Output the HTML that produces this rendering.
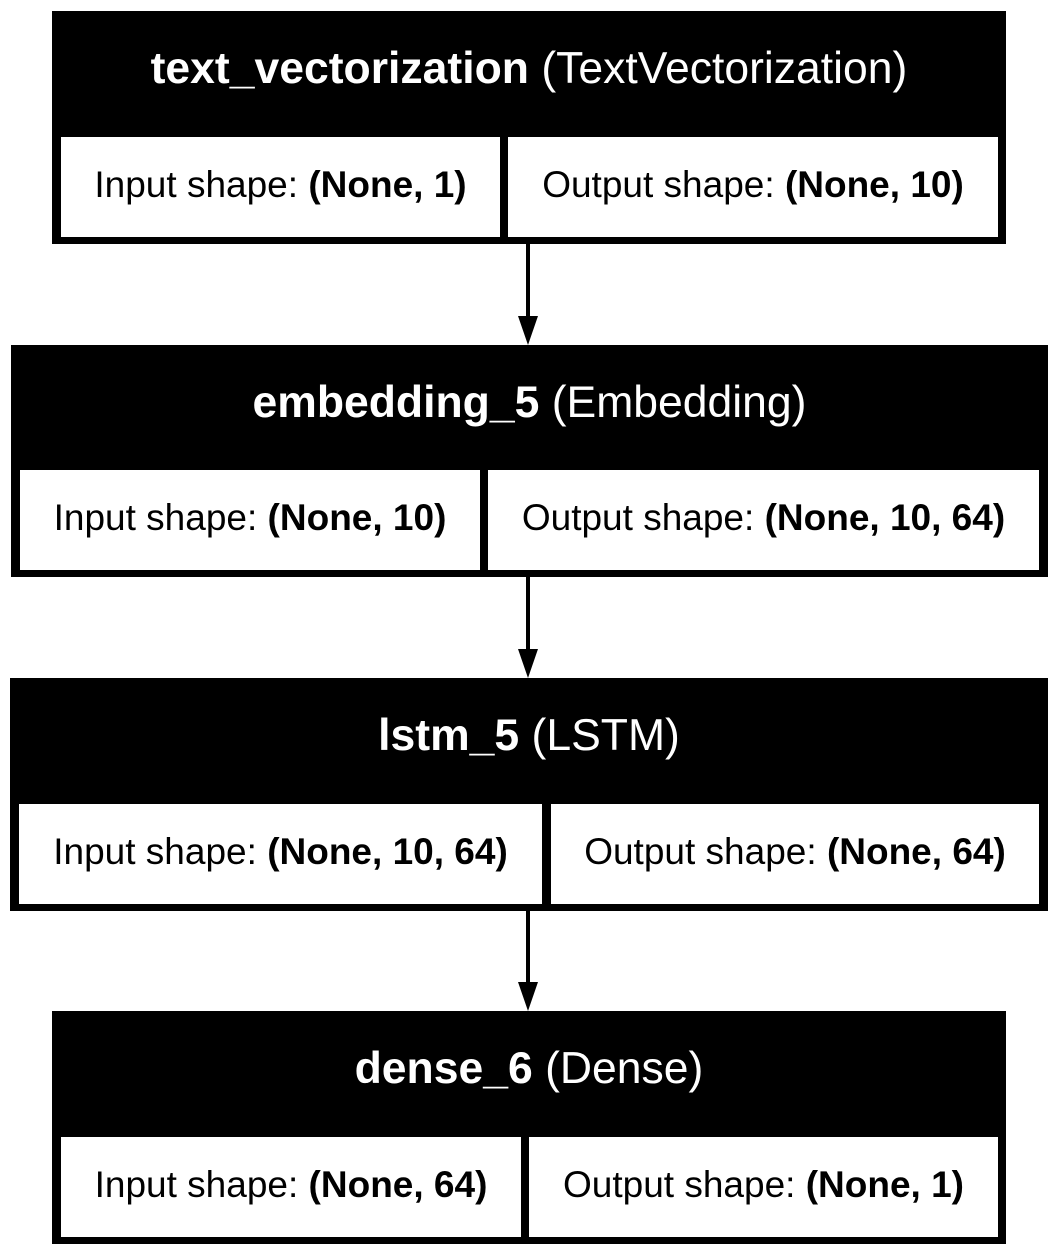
<!DOCTYPE html>
<html><head><meta charset="utf-8"><style>
body{margin:0;width:1058px;height:1256px;background:#fff;position:relative;overflow:hidden;font-family:"Liberation Sans",Arial,sans-serif}
.box{position:absolute;background:#000}
.h{position:absolute;left:0;right:0;top:-2px;height:120px;line-height:120px;text-align:center;color:#fff;font-size:44.5px;white-space:nowrap}
.c{position:absolute;background:#fff;height:100px;line-height:96px;text-align:center;font-size:37px;color:#000;white-space:nowrap}
b{font-weight:bold}
svg{position:absolute;left:0;top:0}
</style></head><body>
<svg width="1058" height="1256">
<g stroke="#000" stroke-width="4" fill="#000">
<line x1="528" y1="244" x2="528" y2="318"/><polygon points="518,316 538,316 528,345" stroke="none"/>
<line x1="528" y1="577" x2="528" y2="651"/><polygon points="518,649 538,649 528,678" stroke="none"/>
<line x1="528" y1="911" x2="528" y2="984"/><polygon points="518,982 538,982 528,1011" stroke="none"/>
</g></svg>

<div class="box" style="left:52px;top:11px;width:954px;height:233px">
<div class="h"><b>text_vectorization</b> (TextVectorization)</div>
<div class="c" style="left:9px;top:126px;width:439px">Input shape: <b>(None, 1)</b></div>
<div class="c" style="left:456px;top:126px;width:490px">Output shape: <b>(None, 10)</b></div>
</div>

<div class="box" style="left:11px;top:345px;width:1037px;height:232px">
<div class="h"><b>embedding_5</b> (Embedding)</div>
<div class="c" style="left:9px;top:125px;width:460px">Input shape: <b>(None, 10)</b></div>
<div class="c" style="left:477px;top:125px;width:551px">Output shape: <b>(None, 10, 64)</b></div>
</div>

<div class="box" style="left:10px;top:678px;width:1038px;height:233px">
<div class="h"><b>lstm_5</b> (LSTM)</div>
<div class="c" style="left:9px;top:126px;width:523px">Input shape: <b>(None, 10, 64)</b></div>
<div class="c" style="left:541px;top:126px;width:488px">Output shape: <b>(None, 64)</b></div>
</div>

<div class="box" style="left:52px;top:1011px;width:954px;height:233px">
<div class="h"><b>dense_6</b> (Dense)</div>
<div class="c" style="left:9px;top:126px;width:460px">Input shape: <b>(None, 64)</b></div>
<div class="c" style="left:477px;top:126px;width:469px">Output shape: <b>(None, 1)</b></div>
</div>
</body></html>
